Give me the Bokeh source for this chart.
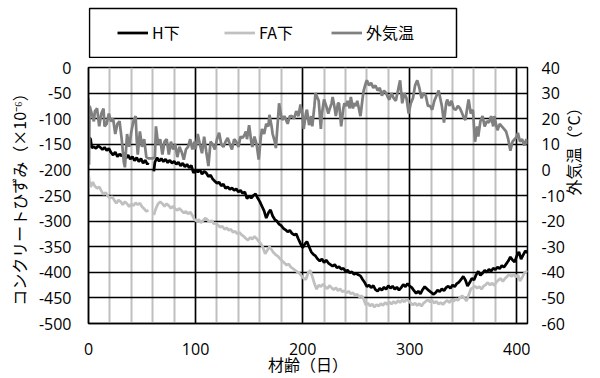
import numpy as np
from bokeh.plotting import figure
from bokeh.layouts import column
from bokeh.models import (Range1d, LinearAxis, SingleIntervalTicker, Legend, LegendItem,
                          ColumnDataSource, BoxAnnotation)
from bokeh.embed import file_html
from bokeh.resources import INLINE

NAN = float("nan")

# ---- data ----
h_days = [1, 2, 3, 5, 7, 9, 11, 13, 15, 17, 19, 21, 23, 25, 27, 29, 31, 33, 35, 37, 39, 41, 43, 45, 47, 49, 51, 53, 55, 56,
          58,
          61, 62, 64, 66, 68, 70, 72, 74, 76, 78, 80, 82, 84, 86, 88, 90, 92, 94, 96, 98, 100,
          102, 104, 106, 108, 110, 112, 114, 116, 118, 120, 122, 124, 126, 128, 130, 132, 134, 136, 138, 140,
          142, 144, 146, 148, 150, 152, 154, 156, 158, 160, 162, 164, 166, 168, 170, 172, 174, 176, 178, 180,
          182, 184, 186, 188, 190, 192, 194, 196, 198, 200, 202, 204, 206, 208, 210, 212, 214, 216, 218, 220,
          222, 224, 226, 228, 230, 232, 234, 236, 238, 240, 242, 244, 246, 248, 250, 252, 254, 256, 258, 260,
          262, 264, 266, 268, 270, 272, 274, 276, 278, 280, 282, 284, 286, 288, 290, 292, 294, 296, 298, 300,
          302, 304, 306, 308, 310, 312, 314, 316, 318, 320, 322, 324, 326, 328, 330, 332, 334, 336, 338, 340,
          342, 344, 346, 348, 350, 352, 354, 356, 358, 360, 362, 364, 366, 368, 370, 372, 374, 376, 378, 380,
          382, 384, 386, 388, 390, 392, 394, 396, 398, 400, 402, 404, 406, 408, 410]
h_vals = [-137, -140, -157, -155, -158, -153, -156, -160, -156, -162, -158, -166, -171, -165, -174, -169, -173, -167, -177, -171,
          -179, -174, -182, -176, -184, -178, -187, -181, -189, -186,
          NAN,
          -203, -185, -176, -183, -178, -184, -179, -186, -181, -187, -183, -189, -185, -192, -187, -194, -189, -196, -191, -206, -200,
          -204, -200, -208, -203, -206, -213, -210, -218, -222, -226, -224, -231, -228, -236, -233, -238, -235, -240, -237, -243,
          -240, -246, -243, -256, -251, -255, -250, -247, -255, -262, -271, -280, -294, -284, -278, -290, -297, -300, -306, -309,
          -314, -317, -321, -318, -324, -327, -325, -335, -344, -352, -345, -340, -350, -360, -365, -368, -374, -378, -374, -381,
          -376, -382, -385, -388, -385, -391, -389, -394, -392, -398, -396, -401, -399, -404, -402, -405, -407, -414, -420, -428,
          -425, -430, -426, -434, -437, -431, -435, -429, -433, -426, -431, -427, -433, -429, -435, -430, -424, -428, -422, -427,
          -430, -436, -441, -437, -442, -434, -428, -432, -436, -439, -443, -440, -435, -438, -432, -436, -430, -427, -431, -425,
          -428, -422, -419, -414, -408, -415, -427, -420, -412, -415, -405, -398, -406, -402, -396, -400, -394, -398, -392, -395,
          -390, -393, -387, -390, -384, -378, -370, -376, -380, -368, -360, -374, -366, -358, -362]

fa_days = [0, 1, 2, 4, 6, 8, 10, 12, 14, 16, 18, 20, 22, 24, 26, 28, 30, 32, 34, 36, 38, 40, 42, 44, 46, 48, 50, 52, 54, 56,
           58,
           61, 63, 65, 67, 69, 71, 73, 75, 77, 79, 81, 83, 85, 87, 89, 91, 93, 95, 97, 99,
           101, 103, 105, 107, 109, 111, 113, 115, 117, 119, 121, 123, 125, 127, 129, 131, 133, 135, 137, 139,
           141, 143, 145, 147, 149, 151, 153, 155, 157, 159, 161, 163, 165, 167, 169, 171, 173, 175, 177, 179,
           181, 183, 185, 187, 189, 191, 193, 195, 197, 199, 201, 203, 205, 207, 209, 211, 213, 215, 217, 219,
           221, 223, 225, 227, 229, 231, 233, 235, 237, 239, 241, 243, 245, 247, 249, 251, 253, 255, 257, 259,
           261, 263, 265, 267, 269, 271, 273, 275, 277, 279, 281, 283, 285, 287, 289, 291, 293, 295, 297, 299,
           301, 303, 305, 307, 309, 311, 313, 315, 317, 319, 321, 323, 325, 327, 329, 331, 333, 335, 337, 339,
           341, 343, 345, 347, 349, 351, 353, 355, 357, 359, 361, 363, 365, 367, 369, 371, 373, 375, 377, 379,
           381, 383, 385, 387, 389, 391, 393, 395, 397, 399, 401, 403, 405, 407, 409, 410]
fa_vals = [-207, -225, -233, -224, -232, -236, -233, -241, -248, -244, -251, -255, -252, -259, -265, -259, -262, -268, -262, -266,
           -272, -266, -270, -264, -268, -265, -272, -276, -281, -279,
           NAN,
           -288, -275, -266, -262, -266, -271, -266, -270, -275, -271, -276, -279, -275, -280, -284, -281, -286, -282, -289, -297,
           -300, -297, -303, -299, -294, -297, -302, -299, -305, -304, -308, -312, -310, -316, -313, -318, -316, -322, -320, -325,
           -322, -327, -330, -334, -337, -332, -335, -330, -334, -340, -344, -352, -364, -357, -350, -356, -362, -366, -369, -374,
           -378, -382, -386, -384, -390, -393, -396, -399, -402, -407, -412, -414, -402, -396, -408, -422, -433, -425, -428, -423,
           -428, -432, -426, -430, -434, -430, -436, -432, -438, -436, -440, -437, -442, -440, -445, -443, -448, -446, -452, -464,
           -460, -466, -462, -468, -463, -466, -461, -465, -459, -463, -458, -462, -457, -461, -455, -459, -454, -458, -452, -456,
           -460, -464, -460, -465, -461, -466, -460, -457, -453, -458, -455, -460, -457, -462, -459, -463, -458, -455, -459, -454,
           -457, -452, -455, -449, -446, -450, -456, -445, -433, -430, -427, -431, -428, -433, -427, -424, -420, -425, -421, -426,
           -419, -415, -412, -418, -412, -408, -404, -408, -404, -409, -405, -417, -410, -402, -398, -400]

t_days = [0, 0.5, 1, 3, 5, 6, 8, 10, 12, 14, 15, 17, 19, 21, 23, 25, 27, 29, 31, 33, 34, 36, 38, 40, 42, 44, 45, 46, 48, 50,
          52, 54, 56, 58, 60, 62, 63, 65, 67, 69, 71, 73, 75, 77, 79, 81, 83, 85, 87, 89, 91, 93, 95, 97, 99, 100,
          102, 104, 106, 108, 110, 112, 114, 116, 118, 120, 122, 124, 126, 128, 130, 132, 134, 136, 138, 140,
          142, 144, 146, 147, 148, 150, 152, 153, 155, 157, 159, 161, 162, 164, 166, 168, 169, 171, 172, 174, 175, 177, 178, 180,
          181, 183, 185, 186, 188, 190, 192, 194, 196, 198, 200, 201, 203, 204, 206, 208, 209, 211, 212, 214, 215, 217, 218, 220,
          222, 224, 225, 227, 228, 230, 231, 233, 234, 236, 238, 239, 241, 242, 244, 245, 247, 248, 250, 251, 253, 254, 256, 257,
          259, 260, 262, 264, 266, 268, 270, 272, 274, 276, 278, 280, 281, 283, 285, 287, 289, 291, 293, 295, 297, 299,
          301, 303, 305, 307, 309, 311, 313, 315, 317, 319, 321, 323, 325, 327, 329, 330, 332, 334, 335, 337, 339, 341, 343, 345,
          347, 349, 351, 352, 354, 355, 357, 359, 361, 363, 364, 366, 368, 370, 372, 374, 376, 378, 379, 381, 382, 384, 386, 388,
          390, 392, 394, 396, 398, 400, 401, 403, 405, 407, 409, 410]
t_vals = [28, 2, 25, 22, 19, 23, 24, 17, 22, 24, 17, 18, 22, 19, 20, 14, 18, 19, 12, 3, 1, 14, 9, 15, 19, 21, 12, 6, 15, 9,
          12, 5, 4.5, 4.5, 4.5, 5, 17, 10, 12, 6, 11, 12, 6, 11, 8, 10, 5, 9, 7, 4, 8, 9, 12, 8, 11, 8,
          14, 10, 6.5, 13, 7, 1.5, 11, 10, 8, 12, 14.5, 10, 9, 11, 12.5, 10, 8, 12, 11, 9,
          13, 12.5, 14, 15, 12, 17.5, 11, 9, 13, 10, 4, 13, 16, 14, 18, 17, 21.5, 17, 14, 11, 8.5, 20, 26, 21,
          19.5, 21, 19, 18, 21, 21, 20, 23, 21, 25.5, 21, 16, 22, 23.5, 17.5, 21, 17, 25, 30, 28, 27, 16, 22, 27.5,
          25, 22, 23.5, 26, 28.5, 24, 21, 26, 26, 17, 24, 26, 25, 27, 24, 28.5, 24, 26, 25, 27, 23, 21, 28, 31,
          34, 35, 33, 34, 32, 33, 31, 32, 29, 31, 30, 28, 27.5, 30, 28, 27, 31, 35, 26, 30, 28, 22,
          26, 28, 33, 35, 32, 28, 30, 29, 25, 25, 23.5, 27, 29, 31, 27, 25, 18.5, 26, 27.5, 25, 27, 24, 23.5, 25,
          24, 22, 20, 19.5, 25, 27.5, 22, 23.5, 11, 17, 13, 19, 21, 17, 19, 18.5, 21, 17, 21, 17, 15.5, 18, 17, 16,
          15, 12, 7.5, 11, 12, 13, 14.5, 11, 12, 9.5, 12, 10]

x_ticks_interval = 100
strain_ticks = list(range(-500, 1, 50))
temp_ticks = list(range(-60, 41, 10))
legend_labels = ["H下", "FA下", "外気温"]
left_title = "コンクリートひずみ（×10⁻⁶）"
right_title = "外気温（°C）"
x_title = "材齢（日）"

NUM_FONT = "Open Sans"
JP_FONT = "Noto Sans CJK JP"
C_H, C_FA, C_T = "black", "#c0c0c0", "#808080"
LW = 2.75

src_h = ColumnDataSource(dict(x=np.array(h_days, dtype=float), y=np.array(h_vals, dtype=float)))
src_fa = ColumnDataSource(dict(x=np.array(fa_days, dtype=float), y=np.array(fa_vals, dtype=float)))
src_t = ColumnDataSource(dict(x=np.array(t_days, dtype=float), y=np.array(t_vals, dtype=float)))

# frame geometry (pixels)
FL, FR, FT, FB = 88, 527, 67, 324
LEG_H = 58

# ---------------- legend strip ----------------
# in a column Bokeh aligns the strip's frame with the chart's frame (x: FL..FR)
leg = figure(width=600, height=LEG_H, output_backend="svg", toolbar_location=None,
             x_range=Range1d(FL, FR), y_range=Range1d(0, LEG_H),
             x_axis_type=None, y_axis_type=None,
             min_border_left=0, min_border_right=0, min_border_top=0, min_border_bottom=0,
             background_fill_color="white", border_fill_color="white")
leg.outline_line_color = None
leg.extra_y_ranges = {"off": Range1d(5000, 6000)}
leg.add_layout(BoxAnnotation(left=FL + 1, right=456, bottom=1, top=50,
                             fill_color="white", fill_alpha=1.0,
                             line_color="black", line_alpha=1.0, line_width=1.5, level="underlay"))
d_h = leg.line("x", "y", source=src_h, line_color=C_H, line_width=LW, y_range_name="off")
d_fa = leg.line("x", "y", source=src_fa, line_color=C_FA, line_width=LW, y_range_name="off")
d_t = leg.line("x", "y", source=src_t, line_color=C_T, line_width=LW, y_range_name="off")
legend = Legend(items=[LegendItem(label=legend_labels[0], renderers=[d_h]),
                       LegendItem(label=legend_labels[1], renderers=[d_fa]),
                       LegendItem(label=legend_labels[2], renderers=[d_t])],
                orientation="horizontal", location=(117 - FL, 14), padding=0, margin=0,
                spacing=2, glyph_width=31, glyph_height=23, label_height=23, label_width=70,
                label_standoff=4,
                label_text_font=JP_FONT, label_text_font_size="16px", label_text_color="black",
                border_line_color=None, background_fill_alpha=0.0)
leg.add_layout(legend, "center")

# ---------------- main chart ----------------
p = figure(width=600, height=378 - LEG_H, output_backend="svg", toolbar_location=None,
           x_range=Range1d(0, 410), y_range=Range1d(-500, 0),
           min_border_left=FL, min_border_right=600 - FR, min_border_top=FT - LEG_H,
           min_border_bottom=378 - FB,
           background_fill_color="white", border_fill_color="white")
p.extra_y_ranges = {"temp": Range1d(-60, 40)}
p.outline_line_color = "black"
p.outline_line_width = 1.5

xt = SingleIntervalTicker(interval=x_ticks_interval, num_minor_ticks=5)
yt = SingleIntervalTicker(interval=50)
p.xaxis.ticker = xt
p.left[0].ticker = yt
p.xgrid.ticker = xt
p.ygrid.ticker = yt
p.xgrid.grid_line_color = "black"
p.xgrid.grid_line_width = 1.5
p.xgrid.minor_grid_line_color = "#bfbfbf"
p.xgrid.minor_grid_line_width = 2
p.ygrid.grid_line_color = "black"
p.ygrid.grid_line_width = 1.5

p.line("x", "y", source=src_h, line_color=C_H, line_width=LW)
p.line("x", "y", source=src_fa, line_color=C_FA, line_width=LW)
p.line("x", "y", source=src_t, line_color=C_T, line_width=LW, y_range_name="temp")

rax = LinearAxis(y_range_name="temp", ticker=SingleIntervalTicker(interval=10))
p.add_layout(rax, "right")
xax = p.below[0]
lax = p.left[0]

for ax in (xax, lax, rax):
    ax.axis_line_color = "black"
    ax.axis_line_width = 1.5
    ax.major_tick_line_color = None
    ax.minor_tick_line_color = None
    ax.major_tick_out = 0
    ax.major_tick_in = 0
    ax.minor_tick_out = 0
    ax.minor_tick_in = 0
    ax.major_label_text_font = NUM_FONT
    ax.major_label_text_font_size = "16px"
    ax.major_label_text_color = "black"
    ax.axis_label_text_font = JP_FONT
    ax.axis_label_text_font_size = "16px"
    ax.axis_label_text_font_style = "normal"
    ax.axis_label_text_color = "black"

# plain hyphen-minus in tick labels, as in the reference
lax.major_label_overrides = {v: str(v) for v in strain_ticks}
rax.major_label_overrides = {v: str(v) for v in temp_ticks}

lax.axis_label = left_title
lax.major_label_standoff = 17
lax.axis_label_standoff = 5

xax.axis_label = x_title
xax.major_label_standoff = 19
xax.axis_label_standoff = -6

rax.axis_line_color = None
rax.axis_label = right_title
rax.major_label_standoff = 14
rax.axis_label_standoff = 5
if "axis_label_orientation" in rax.properties():
    rax.axis_label_orientation = np.pi / 2

layout = column(leg, p, spacing=0)
open("out.html", "w").write(file_html(layout, INLINE))
